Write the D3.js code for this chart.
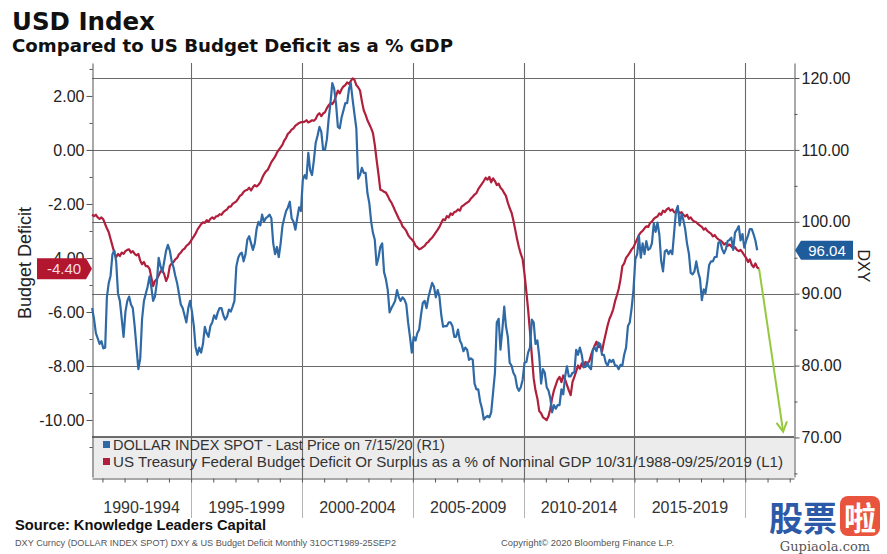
<!DOCTYPE html>
<html><head><meta charset="utf-8">
<script src="https://cdn.jsdelivr.net/npm/d3@7"></script>
<style>body{margin:0;background:#fff}svg{display:block}</style>
</head><body>
<svg id="c" width="887" height="554"></svg>
<script>
// ---------------- DATA ----------------
const dxyStart = [1990, 6];      // July 1990 (month index 6), monthly
const dxyValues = [
  88.0, 86.5, 84.5, 83.8, 83.0, 83.4,
  82.4, 82.5, 89.5, 91.5, 92.5, 95.5, 96.0, 94.5, 90.0, 89.0, 86.5, 84.0,
  87.5, 89.0, 89.6, 88.5, 88.0, 85.5, 82.5, 79.5, 81.0, 86.5, 89.0, 90.0,
  91.0, 92.4, 91.0, 89.0, 89.6, 91.5, 95.0, 93.8, 93.0, 94.5, 96.0, 96.8,
  96.0, 94.5, 93.75, 92.5, 91.5, 90.0, 88.5, 88.0, 87.0, 86.0, 88.0, 89.0,
  87.5, 85.5, 82.6, 81.5, 82.5, 81.8, 83.0, 85.4, 84.5, 84.0, 85.5, 86.0,
  87.0, 86.5, 87.4, 88.0, 88.0, 87.0, 86.4, 86.8, 87.8, 87.5, 88.2, 89.0,
  93.8, 95.0, 95.5, 95.7, 94.5, 95.5, 97.5, 98.0, 97.0, 96.1, 97.0, 99.0,
  100.0, 99.5, 101.0, 100.0, 100.5, 100.7, 101.0, 100.5, 97.0, 95.5, 96.5, 95.1,
  97.0, 99.5, 100.5, 101.5, 102.0, 102.8, 100.5, 100.0, 98.9, 100.5, 102.0, 101.5,
  105.8, 106.5, 106.0, 109.6, 107.2, 106.5, 108.5, 111.0, 112.0, 113.2, 112.5, 110.0,
  110.0, 111.5, 114.2, 116.5, 119.3, 118.5, 116.5, 113.2, 113.0, 114.5, 115.5, 116.5,
  116.5, 118.5, 119.3, 117.0, 115.0, 113.0, 106.0, 106.5, 107.5, 106.8, 106.8, 104.0,
  102.6, 100.0, 98.5, 97.5, 94.0, 95.0, 96.5, 97.0, 93.0, 92.0, 90.5, 87.4,
  88.0, 88.5, 89.0, 90.5, 89.5, 89.0, 89.5, 89.2, 88.5, 86.0, 84.0, 81.8,
  84.0, 83.5, 84.5, 85.0, 87.0, 88.75, 89.0, 88.0, 89.5, 90.5, 91.5, 91.0,
  89.5, 90.5, 89.6, 87.0, 85.4, 85.5, 85.5, 86.0, 86.0, 85.5, 84.0, 84.0,
  85.0, 83.5, 83.0, 82.0, 82.5, 82.2, 80.8, 81.0, 80.8, 77.5, 76.7, 76.7,
  75.0, 74.0, 72.5, 72.8, 73.0, 72.8, 73.5, 76.25, 79.0, 86.0, 86.5, 82.2,
  85.0, 88.2, 85.5, 84.0, 80.4, 80.0, 79.0, 78.5, 77.0, 76.5, 77.0, 78.0,
  80.4, 80.5, 81.8, 82.5, 86.4, 86.0, 83.0, 83.5, 81.25, 77.5, 79.5, 79.0,
  77.0, 76.5, 75.5, 73.5, 74.5, 74.0, 74.5, 74.5, 76.7, 76.0, 78.5, 79.9,
  78.5, 78.5, 79.0, 79.0, 82.2, 81.5, 82.5, 81.5, 79.8, 79.8, 80.4, 79.8,
  79.5, 82.2, 82.5, 82.0, 83.2, 83.0, 81.5, 81.5, 80.4, 80.0, 80.8, 80.5,
  80.8, 80.0, 80.0, 79.5, 80.1, 80.0, 81.5, 82.5, 85.5, 86.0, 88.0, 90.5,
  94.8, 95.5, 98.0, 95.0, 97.0, 95.5, 97.3, 96.1, 96.3, 97.0, 99.8, 98.6,
  99.9, 98.2, 94.6, 93.1, 95.9, 96.1, 95.5, 96.0, 95.5, 98.5, 101.5, 102.2,
  99.5, 101.1, 100.3, 99.0, 97.0, 95.6, 92.9, 92.7, 93.1, 94.5, 93.0, 92.1,
  89.1, 90.6, 90.1, 91.8, 94.0, 94.5, 94.5, 95.1, 95.1, 97.1, 97.2, 96.2,
  95.6, 96.2, 97.3, 97.5, 97.8, 96.1, 98.5, 98.9, 99.4, 97.4, 98.3, 96.4,
  97.4, 98.1, 99.0, 99.0, 98.3, 97.4, 96.04
];
const deficitStart = [1990, 6];  // July 1990, monthly
const deficitValues = [
  -2.39, -2.45, -2.40, -2.50, -2.55, -2.50,
  -2.57, -2.75, -2.90, -3.05, -3.30, -3.55, -3.80, -3.97, -3.85, -3.93, -3.80, -3.85,
  -3.75, -3.70, -3.68, -3.80, -3.75, -3.85, -3.90, -3.85, -4.10, -4.23, -4.15, -4.30,
  -4.30, -4.40, -4.70, -5.04, -4.85, -4.78, -4.65, -4.50, -4.45, -4.60, -4.85, -4.70,
  -4.30, -4.20, -4.15, -4.05, -4.00, -3.86, -3.80, -3.70, -3.65, -3.55, -3.50, -3.42,
  -3.30, -3.20, -3.10, -2.95, -2.85, -2.75, -2.68, -2.70, -2.60, -2.65, -2.55, -2.50,
  -2.55, -2.46, -2.45, -2.38, -2.40, -2.30, -2.25, -2.20, -2.10, -2.10, -2.00, -1.95,
  -1.90, -1.80, -1.70, -1.65, -1.55, -1.50, -1.47, -1.40, -1.50, -1.38, -1.30, -1.35,
  -1.29, -1.20, -1.05, -0.90, -0.80, -0.74, -0.60, -0.45, -0.35, -0.25, -0.10, 0.00,
  0.10, 0.20, 0.35, 0.45, 0.60, 0.66, 0.75, 0.80, 0.90, 0.95, 1.00, 1.03,
  1.03, 1.05, 1.10, 1.02, 1.05, 1.10, 1.08, 1.15, 1.30, 1.36, 1.25, 1.35,
  1.40, 1.55, 1.65, 1.73, 1.70, 1.80, 2.00, 2.20, 2.10, 2.25, 2.35, 2.40,
  2.50, 2.45, 2.55, 2.65, 2.60, 2.40, 2.32, 2.20, 1.80, 1.47, 1.30, 1.10,
  0.95, 0.80, 0.63, 0.20, -0.37, -0.90, -1.47, -1.50, -1.55, -1.58, -1.70, -1.85,
  -1.95, -2.10, -2.25, -2.40, -2.55, -2.65, -2.83, -2.90, -3.00, -3.15, -3.25, -3.31,
  -3.40, -3.55, -3.60, -3.68, -3.65, -3.60, -3.55, -3.45, -3.40, -3.31, -3.25, -3.15,
  -3.05, -2.95, -2.85, -2.70, -2.57, -2.60, -2.45, -2.50, -2.35, -2.40, -2.30, -2.28,
  -2.20, -2.25, -2.10, -2.05, -2.00, -1.95, -1.90, -1.80, -1.73, -1.65, -1.60, -1.45,
  -1.35, -1.25, -1.15, -1.03, -1.10, -1.00, -1.20, -1.05, -1.15, -1.30, -1.25, -1.40,
  -1.47, -1.60, -1.70, -1.95, -2.15, -2.32, -2.60, -2.95, -3.31, -3.60, -3.85, -4.04,
  -4.60, -5.26, -5.90, -6.73, -7.60, -8.46, -8.90, -9.20, -9.67, -9.75, -9.90, -9.95,
  -10.00, -9.85, -9.60, -9.19, -8.90, -8.70, -8.50, -8.40, -8.60, -8.35, -8.50, -8.70,
  -8.90, -9.08, -8.60, -8.40, -8.20, -7.98, -8.10, -7.90, -8.05, -7.85, -7.90, -7.83,
  -7.60, -7.40, -7.25, -7.10, -7.30, -7.25, -7.46, -7.10, -6.80, -6.50, -6.25, -6.10,
  -5.90, -5.60, -5.40, -5.15, -4.80, -4.30, -4.20, -4.00, -3.90, -3.80, -3.68, -3.60,
  -3.45, -3.30, -3.15, -3.05, -3.00, -2.90, -2.83, -2.85, -2.70, -2.65, -2.55, -2.50,
  -2.46, -2.35, -2.40, -2.25, -2.30, -2.20, -2.15, -2.25, -2.20, -2.30, -2.32, -2.25,
  -2.35, -2.30, -2.40, -2.46, -2.40, -2.55, -2.50, -2.60, -2.65, -2.68, -2.75, -2.80,
  -2.85, -2.95, -2.90, -3.00, -3.05, -3.10, -3.20, -3.15, -3.25, -3.31, -3.35, -3.40,
  -3.50, -3.45, -3.55, -3.50, -3.57, -3.65, -3.60, -3.70, -3.75, -3.70, -3.79, -3.90,
  -4.00, -4.15, -4.05, -4.25, -4.34, -4.20, -4.35, -4.40
];
const leftTicks = [2, 0, -2, -4, -6, -8, -10];
const leftMinorTicks = [3, 1, -1, -3, -5, -7, -9, -11];
const rightTicks = [120, 110, 100, 90, 80, 70];
const rightMinorTicks = [115, 105, 95, 85, 75, 65];
const periodYears = [1990, 1995, 2000, 2005, 2010, 2015, 2020];
const periodLabels = ["1990-1994", "1995-1999", "2000-2004", "2005-2009", "2010-2014", "2015-2019"];
const legendLabels = [
  "DOLLAR INDEX SPOT - Last Price on 7/15/20 (R1)",
  "US Treasury Federal Budget Deficit Or Surplus as a % of Nominal GDP 10/31/1988-09/25/2019 (L1)"
];
const lastDxy = 96.04;
const lastDeficit = -4.40;
const arrowEnd = {year: 2021, month: 8, dxy: 70.8};

// ---------------- CHART ----------------
const svg = d3.select("#c");
const blue = "#2f6aa6", red = "#b01f3b";
const L = 92, R = 794, T = 63, B = 477;

const x = d3.scaleTime().domain([new Date(1990, 6, 13), new Date(2022, 2, 13)]).range([L, R]);
const yL = d3.scaleLinear().domain([-12.11, 3.22]).range([B, T]);
const yR = d3.scaleLinear().domain([64.5, 122.09]).range([B, T]);

const dxy = dxyValues.map((v, i) => ({d: new Date(dxyStart[0], dxyStart[1] + i, 15), v}));
const def = deficitValues.map((v, i) => ({d: new Date(deficitStart[0], deficitStart[1] + i, 15), v}));

// titles
svg.append("text").attr("x", 12).attr("y", 30).attr("font-family", "DejaVu Sans").attr("font-weight", "bold")
  .attr("font-size", 24.5).attr("fill", "#111").text("USD Index");
svg.append("text").attr("x", 12).attr("y", 52).attr("font-family", "DejaVu Sans").attr("font-weight", "bold")
  .attr("font-size", 18).attr("fill", "#111").attr("textLength", 441).attr("lengthAdjust", "spacingAndGlyphs")
  .text("Compared to US Budget Deficit as a % GDP");

// legend background (under gridlines)
svg.append("rect").attr("x", L).attr("y", 436).attr("width", R - L).attr("height", 42).attr("fill", "#ececec");

// gridlines
const g = svg.append("g");
g.selectAll("line.h").data(rightTicks).join("line")
  .attr("x1", L).attr("x2", R).attr("y1", d => Math.round(yR(d)) + 0.5).attr("y2", d => Math.round(yR(d)) + 0.5)
  .attr("stroke", "#6a6a6a").attr("stroke-width", 1.1);
const gridYears = periodYears.slice(1);
g.selectAll("line.v").data(gridYears).join("line")
  .attr("x1", d => Math.round(x(new Date(d, 0, 1))) + 0.5).attr("x2", d => Math.round(x(new Date(d, 0, 1))) + 0.5)
  .attr("y1", T).attr("y2", 478).attr("stroke", "#6a6a6a").attr("stroke-width", 1.1);
g.selectAll("line.v2").data(gridYears).join("line")
  .attr("x1", d => Math.round(x(new Date(d, 0, 1))) + 0.5).attr("x2", d => Math.round(x(new Date(d, 0, 1))) + 0.5)
  .attr("y1", 478).attr("y2", 518).attr("stroke", "#b5b5b5");

// x axis ticks (yearly) under legend
const xAxis = d3.axisBottom(x).ticks(d3.timeYear.every(1)).tickFormat("").tickSize(4).tickSizeOuter(0);
const gx = svg.append("g").attr("transform", `translate(0,478.5)`).call(xAxis);
gx.select(".domain").attr("stroke", "#8a8a8a");
gx.selectAll(".tick line").attr("stroke", "#666");

// period labels
svg.selectAll("text.per").data(periodLabels).join("text")
  .attr("x", (d, i) => (Math.max(L, x(new Date(periodYears[i], 0, 1))) + x(new Date(periodYears[i + 1], 0, 1))) / 2)
  .attr("y", 513).attr("text-anchor", "middle").attr("font-family", "Liberation Sans").attr("font-size", 16)
  .attr("fill", "#333").text(d => d);

// legend
const lg = svg.append("g");
lg.append("line").attr("x1", L).attr("x2", R).attr("y1", 436.5).attr("y2", 436.5).attr("stroke", "#6f6f6f");
lg.selectAll("rect.sw").data([blue, red]).join("rect")
  .attr("x", 103).attr("y", (d, i) => 441 + i * 17).attr("width", 7).attr("height", 7).attr("fill", d => d);
lg.selectAll("text.lt").data(legendLabels).join("text")
  .attr("x", 113).attr("y", (d, i) => 449.5 + i * 17).attr("font-family", "Liberation Sans").attr("font-size", 14.5)
  .attr("fill", "#333")
  .each(function(d, i) { if (i === 1) d3.select(this).attr("textLength", 670).attr("lengthAdjust", "spacingAndGlyphs"); })
  .text(d => d);

// axes
const axL = d3.axisLeft(yL).tickValues(leftTicks).tickFormat(d => d.toFixed(2)).tickSize(6).tickPadding(2).tickSizeOuter(0);
const gL = svg.append("g").attr("transform", `translate(${L + 0.5},0)`).call(axL);
const axLm = d3.axisLeft(yL).tickValues(leftMinorTicks).tickFormat("").tickSize(3).tickSizeOuter(0);
svg.append("g").attr("transform", `translate(${L + 0.5},0)`).call(axLm).select(".domain").remove();
const axR = d3.axisRight(yR).tickValues(rightTicks).tickFormat(d => d.toFixed(2)).tickSize(5).tickPadding(2).tickSizeOuter(0);
const gR = svg.append("g").attr("transform", `translate(${R + 0.5},0)`).call(axR);
const axRm = d3.axisRight(yR).tickValues(rightMinorTicks).tickFormat("").tickSize(3).tickSizeOuter(0);
svg.append("g").attr("transform", `translate(${R + 0.5},0)`).call(axRm).select(".domain").remove();
svg.selectAll(".domain").attr("stroke", "#555");
svg.selectAll(".tick line").attr("stroke", "#555");
[gL, gR].forEach(a => a.selectAll("text").attr("font-family", "Liberation Sans").attr("font-size", 16).attr("fill", "#222"));

// axis titles
svg.append("text").attr("transform", "translate(31,263) rotate(-90)").attr("text-anchor", "middle")
  .attr("font-family", "Liberation Sans").attr("font-size", 18).attr("fill", "#222").text("Budget Deficit");
svg.append("text").attr("transform", "translate(858,266) rotate(90)").attr("text-anchor", "middle")
  .attr("font-family", "Liberation Sans").attr("font-size", 16).attr("fill", "#222").text("DXY");

// lines
const plot = svg.append("g");
plot.append("path").datum(def).attr("fill", "none").attr("stroke", red).attr("stroke-width", 2.2)
  .attr("stroke-linejoin", "round").attr("d", d3.line().x(d => x(d.d)).y(d => yL(d.v)));
plot.append("path").datum(dxy).attr("fill", "none").attr("stroke", blue).attr("stroke-width", 2.2)
  .attr("stroke-linejoin", "round").attr("d", d3.line().x(d => x(d.d)).y(d => yR(d.v)));

// green arrow
const aStart = def[def.length - 1];
const ax0 = x(aStart.d), ay0 = yL(aStart.v);
const ax1 = x(new Date(arrowEnd.year, arrowEnd.month, 15)), ay1 = yR(arrowEnd.dxy);
svg.append("line").attr("x1", ax0).attr("y1", ay0).attr("x2", ax1).attr("y2", ay1)
  .attr("stroke", "#95c93d").attr("stroke-width", 2);
const ang = Math.atan2(ay1 - ay0, ax1 - ax0);
const hl = 11, ha = 0.5;
svg.append("path").attr("fill", "none").attr("stroke", "#95c93d").attr("stroke-width", 2)
  .attr("d", `M${ax1 - hl * Math.cos(ang - ha)},${ay1 - hl * Math.sin(ang - ha)}L${ax1},${ay1}L${ax1 - hl * Math.cos(ang + ha)},${ay1 - hl * Math.sin(ang + ha)}`);

// value tags
const ty = yL(lastDeficit);
svg.append("path").attr("fill", "#b3162f")
  .attr("d", `M37,${ty - 10.5}H86L92,${ty}L86,${ty + 10.5}H37Z`);
svg.append("text").attr("x", 64).attr("y", ty + 5.5).attr("text-anchor", "middle").attr("font-family", "Liberation Sans")
  .attr("font-size", 15).attr("fill", "#f6dbe0").text(lastDeficit.toFixed(2));
const ry = yR(lastDxy);
svg.append("path").attr("fill", "#1f5c9c")
  .attr("d", `M795,${ry}L801,${ry - 9.5}H853V${ry + 9.5}H801Z`);
svg.append("text").attr("x", 827).attr("y", ry + 5.5).attr("text-anchor", "middle").attr("font-family", "Liberation Sans")
  .attr("font-size", 15).attr("fill", "#fff").text(lastDxy.toFixed(2));

// footer
svg.append("text").attr("x", 15).attr("y", 530).attr("font-family", "Liberation Sans").attr("font-weight", "bold")
  .attr("font-size", 14.5).attr("fill", "#111").attr("textLength", 251).attr("lengthAdjust", "spacingAndGlyphs")
  .text("Source: Knowledge Leaders Capital");
svg.append("text").attr("x", 15).attr("y", 546).attr("font-family", "Liberation Sans").attr("font-size", 8.5)
  .attr("fill", "#555").attr("textLength", 381).attr("lengthAdjust", "spacingAndGlyphs")
  .text("DXY Curncy (DOLLAR INDEX SPOT) DXY & US Budget Deficit  Monthly 31OCT1989-25SEP2");
svg.append("text").attr("x", 501).attr("y", 546).attr("font-family", "Liberation Sans").attr("font-size", 8.5)
  .attr("fill", "#555").attr("textLength", 173).attr("lengthAdjust", "spacingAndGlyphs")
  .text("Copyright© 2020 Bloomberg Finance L.P.");

// watermark
svg.append("text").attr("x", 769).attr("y", 531).attr("font-family", "Noto Sans CJK SC").attr("font-weight", "bold")
  .attr("font-size", 34).attr("fill", "#2c5aa8").text("股票");
svg.append("rect").attr("x", 840).attr("y", 496).attr("width", 40).attr("height", 40).attr("rx", 8).attr("fill", "#e8543d");
svg.append("text").attr("x", 860).attr("y", 530).attr("text-anchor", "middle").attr("font-family", "Noto Sans CJK SC")
  .attr("font-weight", "bold").attr("font-size", 32).attr("fill", "#fff").text("啦");
svg.append("text").attr("x", 825).attr("y", 551).attr("text-anchor", "middle").attr("font-family", "DejaVu Serif")
  .attr("font-size", 13).attr("fill", "#555").text("Gupiaola.com");
</script>
</body></html>
